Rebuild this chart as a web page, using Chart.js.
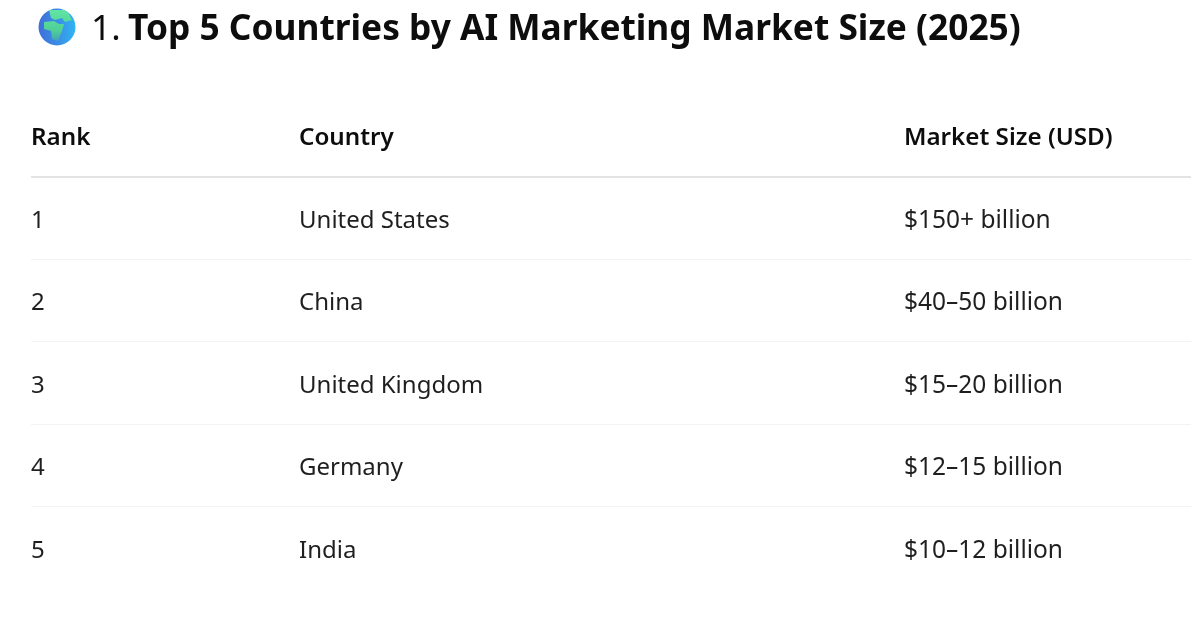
<!DOCTYPE html>
<html>
<head>
<meta charset="utf-8">
<title>Top 5 Countries by AI Marketing Market Size (2025)</title>
<script src="https://cdn.jsdelivr.net/npm/chart.js@4"></script>
<style>
    html, body { margin: 0; padding: 0; background: #ffffff; }
    canvas { display: block; }
</style>
</head>
<body>
<canvas id="marketTable" width="1200" height="628"></canvas>
<script>
const titleNumber = '1.';
const titleText = 'Top 5 Countries by AI Marketing Market Size (2025)';

const columnHeaders = ['Rank', 'Country', 'Market Size (USD)'];
const ranks = ['1', '2', '3', '4', '5'];
const countries = ['United States', 'China', 'United Kingdom', 'Germany', 'India'];
const marketSizes = ['$150+ billion', '$40–50 billion', '$15–20 billion', '$12–15 billion', '$10–12 billion'];

const rowKeys = ['header'].concat(ranks);
const columnCells = [ranks, countries, marketSizes];
// Left edge of each column, measured from the left end of the table rules
const columnStart = [0, 268, 873];

const fontFamily = "'Noto Sans', sans-serif";
const inkColor = '#0d0d0d';
const bodyColor = '#1f1f1f';

// Each column is one dataset: hidden points placed by the scales, labelled by tablePlugin
const datasets = columnHeaders.map((header, col) => ({
    label: header,
    cells: [header].concat(columnCells[col]),
    data: rowKeys.map(key => ({ x: columnStart[col], y: key })),
    pointRadius: 0,
    showLine: false
}));

const tablePlugin = {
    id: 'tablePlugin',
    afterDatasetsDraw(chart) {
        const ctx = chart.ctx;
        ctx.save();
        ctx.textAlign = 'left';
        ctx.textBaseline = 'middle';
        chart.data.datasets.forEach((ds, i) => {
            chart.getDatasetMeta(i).data.forEach((pt, r) => {
                if (r === 0) {
                    ctx.font = '600 24.2px ' + fontFamily;
                    ctx.fillStyle = inkColor;
                } else {
                    // the amounts run a little wider than the country names
                    ctx.font = '400 ' + (i === 2 ? '24.5px ' : '24px ') + fontFamily;
                    ctx.fillStyle = bodyColor;
                }
                ctx.fillText(ds.cells[r], pt.x, pt.y + 3);
            });
        });
        ctx.restore();
    }
};

// Heading and the small globe icon in front of it
const headingPlugin = {
    id: 'headingPlugin',
    afterDraw(chart) {
        const ctx = chart.ctx;
        ctx.save();
        drawGlobe(ctx, 57, 27, 18.5);
        ctx.textAlign = 'left';
        ctx.textBaseline = 'middle';
        ctx.fillStyle = inkColor;
        ctx.font = '400 35.3px ' + fontFamily;
        ctx.fillText(titleNumber, 91, 30);
        ctx.font = '700 35.3px ' + fontFamily;
        ctx.fillText(titleText, 128, 30);
        ctx.restore();
    }
};

function drawGlobe(ctx, cx, cy, r) {
    const sea = ctx.createLinearGradient(cx - r, cy, cx + r, cy);
    sea.addColorStop(0, '#3f6fd8');
    sea.addColorStop(0.55, '#3a8fe8');
    sea.addColorStop(1, '#2fb6f2');
    ctx.save();
    ctx.beginPath();
    ctx.arc(cx, cy, r, 0, Math.PI * 2);
    ctx.fillStyle = sea;
    ctx.fill();
    ctx.clip();

    // Europe and Africa
    const land = ctx.createLinearGradient(cx, cy - r, cx, cy + r);
    land.addColorStop(0, '#62e6a6');
    land.addColorStop(0.6, '#4fcf96');
    land.addColorStop(1, '#3c8fc8');
    ctx.fillStyle = land;
    ctx.beginPath();
    ctx.moveTo(cx - 8, cy - 17);
    ctx.lineTo(cx + 10, cy - 17);
    ctx.lineTo(cx + 15, cy - 7);
    ctx.lineTo(cx + 8, cy - 5);
    ctx.lineTo(cx + 5, cy - 9);
    ctx.lineTo(cx - 2, cy - 7);
    ctx.lineTo(cx - 6, cy - 9);
    ctx.closePath();
    ctx.fill();
    ctx.beginPath();
    ctx.moveTo(cx - 13, cy - 5);
    ctx.lineTo(cx - 3, cy - 6);
    ctx.lineTo(cx + 2, cy - 3);
    ctx.lineTo(cx + 7, cy - 3);
    ctx.lineTo(cx + 5, cy + 4);
    ctx.lineTo(cx + 1, cy + 14);
    ctx.lineTo(cx - 5, cy + 12);
    ctx.lineTo(cx - 6, cy + 4);
    ctx.lineTo(cx - 13, cy + 2);
    ctx.closePath();
    ctx.fill();
    ctx.restore();
}

new Chart(document.getElementById('marketTable'), {
    type: 'scatter',
    data: { datasets: datasets },
    plugins: [tablePlugin, headingPlugin],
    options: {
        responsive: false,
        animation: false,
        devicePixelRatio: 1,
        layout: { padding: { left: 31, right: 9, top: 94, bottom: 39 } },
        plugins: {
            legend: { display: false },
            title: { display: false },
            tooltip: { enabled: false }
        },
        scales: {
            x: {
                type: 'linear',
                min: 0,
                max: 1160,
                display: false
            },
            y: {
                type: 'category',
                labels: rowKeys,
                offset: true,
                border: { display: false },
                ticks: { display: false },
                grid: {
                    offset: true,
                    drawTicks: false,
                    // Stronger rule under the header, faint rules between rows, none on the outer edges
                    color: c => {
                        if (c.index === 1) return '#e3e3e3';
                        if (c.index > 1 && c.index <= ranks.length) return '#f3f3f3';
                        return 'rgba(0,0,0,0)';
                    },
                    lineWidth: c => (c.index === 1 ? 2 : 1)
                }
            }
        }
    }
});
</script>
</body>
</html>
